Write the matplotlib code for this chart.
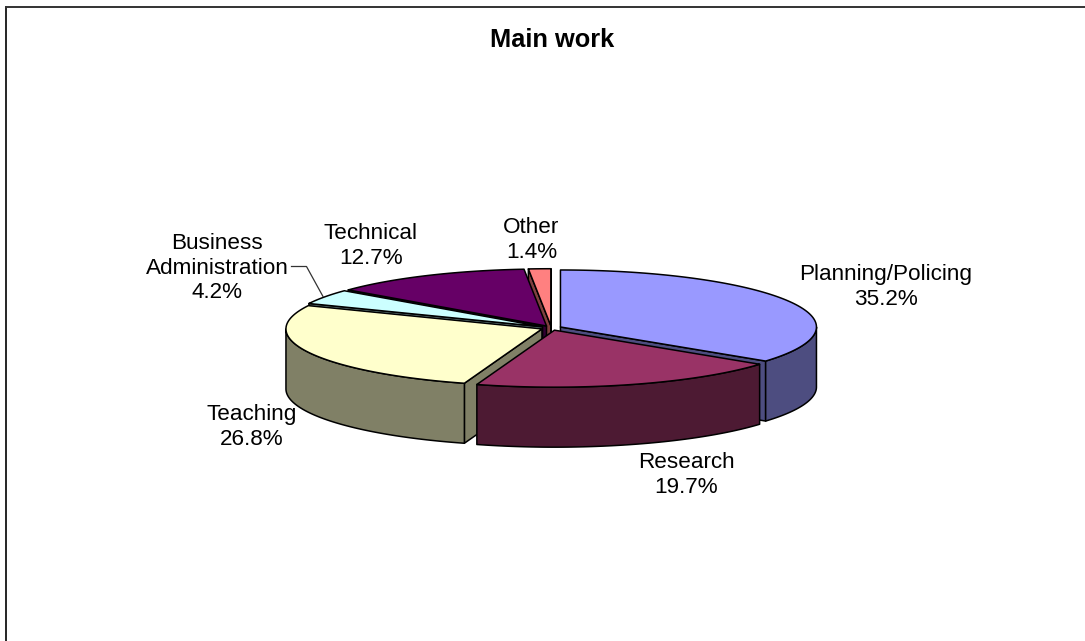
import numpy as np
import matplotlib
matplotlib.use('Agg')
import matplotlib.pyplot as plt
from matplotlib.patches import Polygon

plt.rcParams['font.family'] = ['Liberation Sans', 'DejaVu Sans']

# Datos del grafico
categorias = ['Planning/Policing', 'Research', 'Teaching',
              'Business\nAdministration', 'Technical', 'Other']
valores = [35.2, 19.7, 26.8, 4.2, 12.7, 1.4]
colores = ['#9999FF', '#993366', '#FFFFCC', '#CCFFFF', '#660066', '#FF8080']
colores_lado = ['#4D4D80', '#4D1A33', '#808066', '#668080', '#330033', '#804040']

# Geometria del pastel en pixeles de la figura
cx, cy = 551.3, 328.0
rx, ry = 256.0, 57.0
alto = 60.0
explosion = 0.04

etiquetas_pos = [(886, 287), (686, 475), (251.5, 427), (217, 268), (371, 246), (531.5, 240)]
orden = [5, 4, 3, 0, 2, 1]

fig = plt.figure(figsize=(10.85, 6.41), dpi=100)
ax = fig.add_axes([0, 0, 1, 1])
ax.set_xlim(0, 1085)
ax.set_ylim(641, 0)
ax.axis('off')

# Marco del grafico
ax.plot([6, 6], [641, 6.5], color='black', lw=1.2)
ax.plot([6, 1085], [6.5, 6.5], color='#333333', lw=1.4)

fronteras = np.cumsum([0] + valores) / 100 * 2 * np.pi


def punto(centro, t):
    return centro[0] + rx * np.sin(t), centro[1] - ry * np.cos(t)


def cara(xy, color, z):
    ax.add_patch(Polygon(xy, closed=True, facecolor=color, edgecolor='black',
                         lw=1.1, joinstyle='round', zorder=z))


for n, i in enumerate(orden):
    t0, t1 = fronteras[i], fronteras[i + 1]
    medio = (t0 + t1) / 2
    centro = (cx + explosion * rx * np.sin(medio), cy - explosion * ry * np.cos(medio))
    z = 2 + n
    # caras de corte visibles
    if np.cos(t0 - np.pi / 2) < 0:
        p = punto(centro, t0)
        cara([centro, p, (p[0], p[1] + alto), (centro[0], centro[1] + alto)], colores_lado[i], z)
    if np.cos(t1 + np.pi / 2) < 0:
        p = punto(centro, t1)
        cara([centro, p, (p[0], p[1] + alto), (centro[0], centro[1] + alto)], colores_lado[i], z)
    # pared exterior, solo la parte frontal del arco
    a0, a1 = max(t0, np.pi / 2), min(t1, 3 * np.pi / 2)
    if a1 > a0:
        ts = np.linspace(a0, a1, 80)
        xs, ys = punto(centro, ts)
        cara(np.column_stack([np.r_[xs, xs[::-1]], np.r_[ys, ys[::-1] + alto]]), colores_lado[i], z)
    # tapa superior
    ts = np.linspace(t0, t1, 120)
    xs, ys = punto(centro, ts)
    cara(np.column_stack([np.r_[centro[0], xs], np.r_[centro[1], ys]]), colores[i], z)

# Etiquetas
for i, (x, y) in enumerate(etiquetas_pos):
    ax.text(x, y, f'{categorias[i]}\n{valores[i]}%', ha='center', va='center',
            fontsize=16.2, linespacing=1.2, color='black', zorder=20)

# Linea guia de Business Administration
ax.plot([291.5, 306.5, 323], [266.5, 266.5, 296.5], color='#333333', lw=0.9, zorder=20)

ax.text(552, 40, 'Main work', ha='center', va='center', fontsize=18.3, fontweight='bold', zorder=20)

fig.savefig('out.png', dpi=100)
